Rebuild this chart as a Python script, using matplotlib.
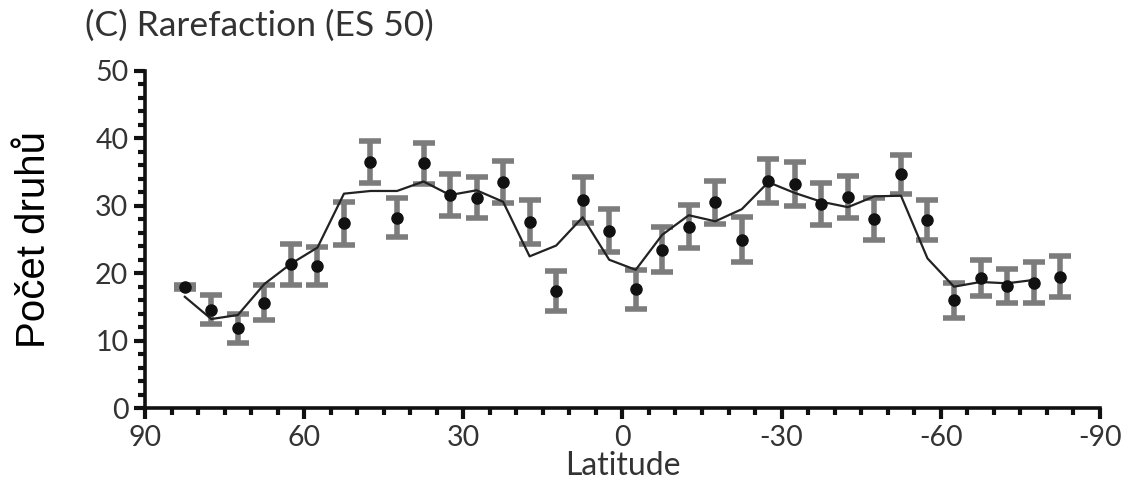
import numpy as np
import matplotlib.pyplot as plt
from matplotlib.ticker import MultipleLocator

plt.rcParams['axes.unicode_minus'] = False

# latitude bins (centres), ES50 means, error half-widths, smoothed line
lat = [82.5, 77.5, 72.5, 67.5, 62.5, 57.5, 52.5, 47.5, 42.5, 37.5, 32.5, 27.5,
       22.5, 17.5, 12.5, 7.5, 2.5, -2.5, -7.5, -12.5, -17.5, -22.5, -27.5, -32.5,
       -37.5, -42.5, -47.5, -52.5, -57.5, -62.5, -67.5, -72.5, -77.5, -82.5]
es50 = [18.0, 14.6, 11.8, 15.6, 21.3, 21.1, 27.4, 36.5, 28.2, 36.3, 31.6, 31.2,
        33.5, 27.6, 17.4, 30.9, 26.3, 17.6, 23.5, 26.9, 30.5, 25.0, 33.7, 33.2,
        30.3, 31.3, 28.1, 34.7, 27.9, 16.0, 19.3, 18.1, 18.6, 19.5]
err = [0.3, 2.2, 2.2, 2.6, 3.0, 2.8, 3.2, 3.1, 2.9, 3.0, 3.1, 3.0,
       3.1, 3.2, 3.0, 3.4, 3.2, 2.9, 3.3, 3.2, 3.2, 3.3, 3.3, 3.3,
       3.1, 3.1, 3.1, 2.9, 2.9, 2.6, 2.7, 2.5, 3.0, 3.0]
line_lat = lat[:-1]
line_val = [16.5, 13.2, 13.8, 18.4, 21.4, 23.8, 31.8, 32.2, 32.2, 33.6, 31.6, 32.3,
            30.6, 22.5, 24.1, 28.3, 22.0, 20.5, 25.7, 28.6, 27.7, 29.5, 33.5, 31.9,
            30.6, 29.8, 31.4, 31.5, 22.2, 18.0, 18.7, 18.5, 19.0]

tickfont = 'Lato'
fig = plt.figure(figsize=(11.26, 4.82), dpi=100)
ax = fig.add_axes([0.1288, 0.1535, 0.848, 0.6992])

ax.errorbar(lat, es50, yerr=err, fmt='none', ecolor='#7c7c7c', elinewidth=4,
            capsize=8, capthick=4, zorder=2)
ax.plot(line_lat, line_val, color='#222222', lw=1.6, zorder=3)
ax.plot(lat, es50, 'o', color='#111111', ms=8, zorder=4)

ax.set_xlim(90, -90)
ax.set_ylim(0, 50)
ax.xaxis.set_major_locator(MultipleLocator(30))
ax.xaxis.set_minor_locator(MultipleLocator(5))
ax.yaxis.set_major_locator(MultipleLocator(10))
ax.yaxis.set_minor_locator(MultipleLocator(2))

for s in ['top', 'right']:
    ax.spines[s].set_visible(False)
for s in ['left', 'bottom']:
    ax.spines[s].set_linewidth(2.6)
    ax.spines[s].set_color('#111111')

ax.tick_params(which='major', direction='out', length=8, width=3, color='#111111',
               labelsize=20.5, labelcolor='#333333', pad=4)
ax.tick_params(which='minor', direction='out', length=5, width=3, color='#111111')
for lab in ax.get_xticklabels() + ax.get_yticklabels():
    lab.set_fontfamily(tickfont)

ax.set_xlabel('Latitude', fontsize=23, family=tickfont, color='#333333', labelpad=0)
ax.set_ylabel('Počet druhů', fontsize=29, family='Liberation Sans', color='black',
              labelpad=30)
fig.text(0.0755, 0.925, '(C) Rarefaction (ES 50)', fontsize=25.5, family=tickfont,
         color='#333333', va='baseline')

fig.savefig('out.png', dpi=100)
